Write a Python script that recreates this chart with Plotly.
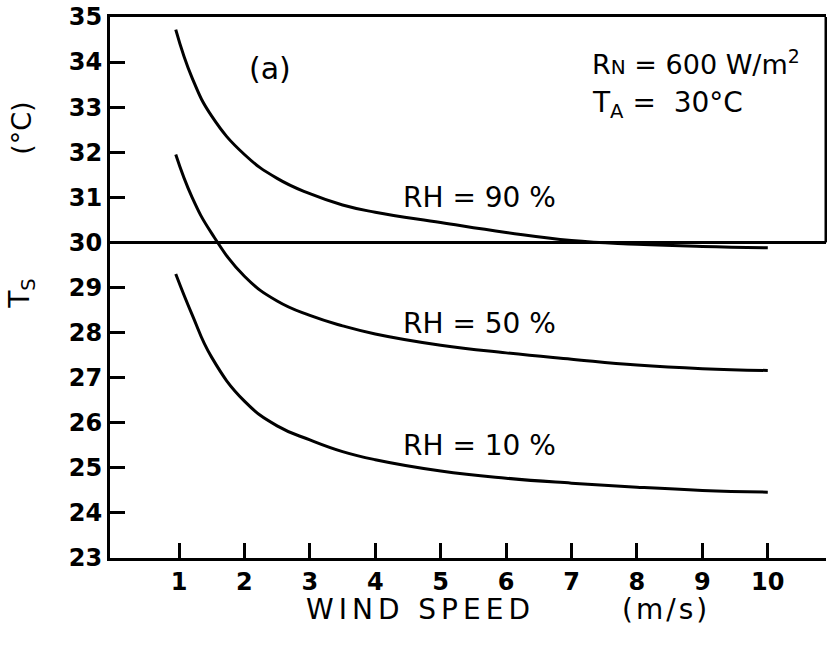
import plotly.graph_objects as go

# Wind speed (m/s) sample points
wind_speed = [0.95, 1.2, 1.5, 2.0, 2.5, 3.0, 3.5, 4.0, 5.0, 6.0, 7.0, 8.0, 9.0, 10.0]

# Surface temperature Ts (°C) for three relative humidities
ts_rh90 = [34.72, 33.65, 32.80, 31.95, 31.42, 31.08, 30.83, 30.67, 30.44, 30.22, 30.04, 29.96, 29.91, 29.88]
ts_rh50 = [31.95, 31.00, 30.20, 29.25, 28.70, 28.38, 28.15, 27.97, 27.72, 27.55, 27.41, 27.28, 27.20, 27.16]
ts_rh10 = [29.30, 28.40, 27.45, 26.48, 25.93, 25.62, 25.36, 25.18, 24.93, 24.77, 24.66, 24.57, 24.50, 24.46]

x_ticks = [1, 2, 3, 4, 5, 6, 7, 8, 9, 10]
y_ticks = list(range(23, 36))
air_temp = 30

series = [
    (ts_rh90, "RH = 90 %", 5.6, 31.0),
    (ts_rh50, "RH = 50 %", 5.6, 28.2),
    (ts_rh10, "RH = 10 %", 5.6, 25.5),
]

FONT = "DejaVu Sans"

fig = go.Figure()
for ys, label, lx, ly in series:
    fig.add_trace(go.Scatter(
        x=wind_speed, y=ys, mode="lines",
        line=dict(color="black", width=3, shape="spline", smoothing=1.3),
        showlegend=False, hoverinfo="skip",
    ))
    fig.add_annotation(x=lx, y=ly, text=label, showarrow=False,
                       xanchor="center", yanchor="middle",
                       font=dict(family=FONT, size=28, color="black"))

# Ambient temperature reference line across the full width
fig.add_shape(type="line", xref="paper", yref="y", x0=0, x1=1, y0=air_temp, y1=air_temp,
              line=dict(color="black", width=3))
# Right frame segment above the ambient line
fig.add_shape(type="line", xref="paper", yref="y", x0=1, x1=1, y0=air_temp, y1=35,
              line=dict(color="black", width=3))

fig.add_annotation(x=2.39, y=33.85, text="(a)", showarrow=False,
                   xanchor="center", yanchor="middle",
                   font=dict(family=FONT, size=30, color="black"))
fig.add_annotation(x=7.28, y=34.0,
                   text="R<span style='font-size:20px'>N</span> = 600 W/m<sup>2</sup>",
                   showarrow=False, xanchor="left", yanchor="middle",
                   font=dict(family=FONT, size=27, color="black"))
fig.add_annotation(x=7.28, y=33.05,
                   text="T<sub>A</sub> =  30°C",
                   showarrow=False, xanchor="left", yanchor="middle",
                   font=dict(family=FONT, size=28, color="black"))

# Axis titles
fig.add_annotation(xref="paper", yref="paper", x=-0.123, y=0.795, text="(°C)",
                   textangle=-90, showarrow=False, xanchor="center", yanchor="middle",
                   font=dict(family=FONT, size=27, color="black"))
fig.add_annotation(xref="paper", yref="paper", x=-0.123, y=0.49, text="T<sub>S</sub>",
                   textangle=-90, showarrow=False, xanchor="center", yanchor="middle",
                   font=dict(family=FONT, size=28, color="black"))
fig.add_annotation(xref="paper", yref="paper", x=0.271, y=-0.095,
                   text="<span style='letter-spacing:5px'>WIND SPEED</span>",
                   showarrow=False, xanchor="left", yanchor="middle",
                   font=dict(family=FONT, size=28, color="black"))
fig.add_annotation(xref="paper", yref="paper", x=0.712, y=-0.095,
                   text="<span style='letter-spacing:3px'>(m/s)</span>",
                   showarrow=False, xanchor="left", yanchor="middle",
                   font=dict(family=FONT, size=28, color="black"))

fig.update_xaxes(
    range=[-0.055, 10.89], tickvals=x_ticks, ticktext=[str(v) for v in x_ticks],
    ticks="inside", ticklen=15, tickwidth=3, tickcolor="black",
    showline=True, linecolor="black", linewidth=3, mirror=True,
    showgrid=False, zeroline=False,
    tickfont=dict(family=FONT, size=24, color="black", weight="bold"),
)
fig.update_yaxes(
    range=[23, 35], tickvals=y_ticks, ticktext=[str(v) for v in y_ticks],
    ticks="inside", ticklen=15, tickwidth=3, tickcolor="black",
    showline=True, linecolor="black", linewidth=3,
    showgrid=False, zeroline=False,
    tickfont=dict(family=FONT, size=24, color="black", weight="bold"),
)
fig.update_layout(
    width=827, height=647,
    margin=dict(l=110, r=1, t=17, b=89),
    paper_bgcolor="white", plot_bgcolor="white",
)
fig.write_html("out.html")
